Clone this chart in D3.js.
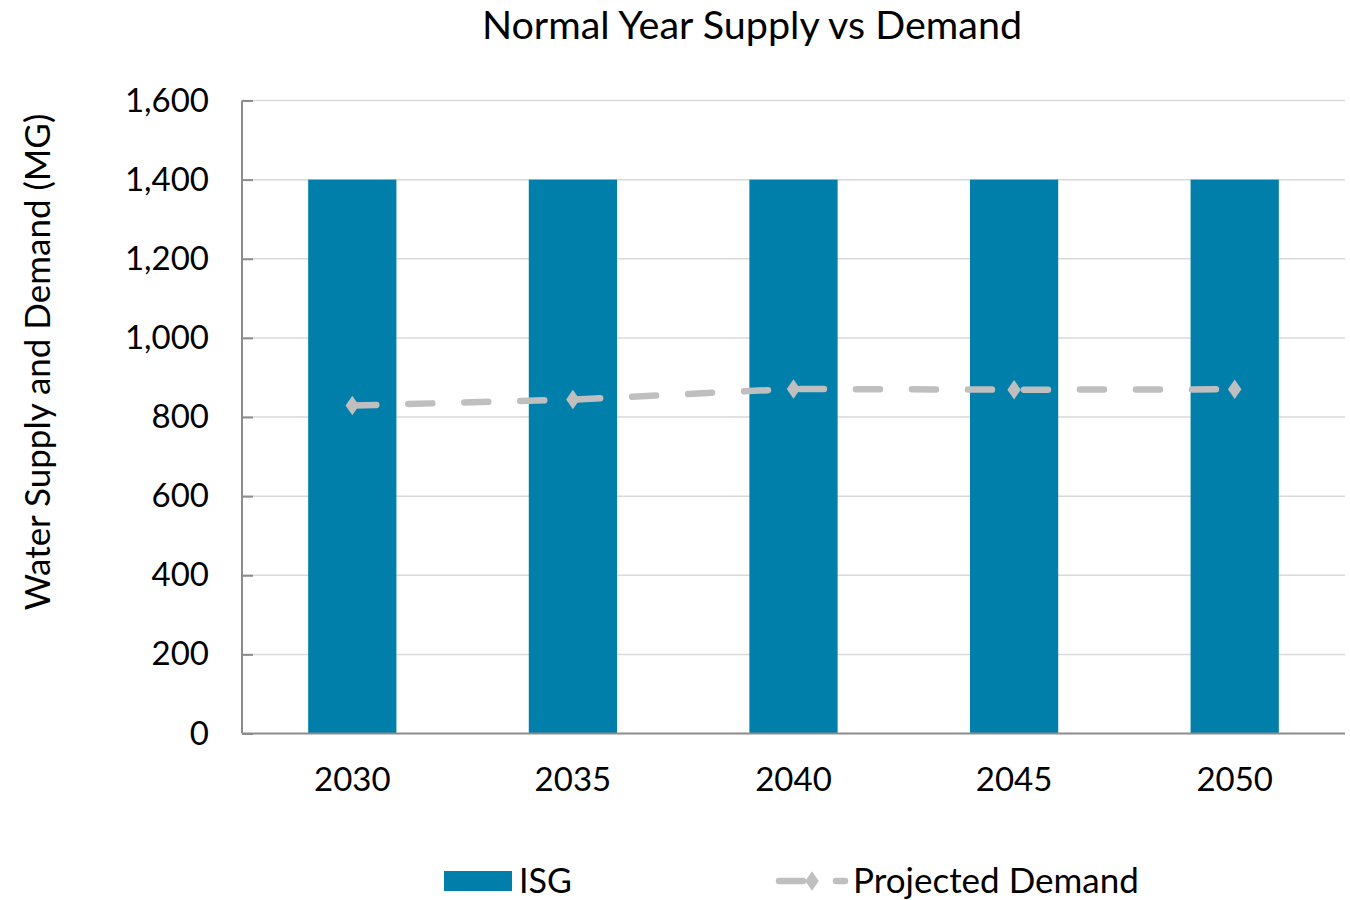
<!DOCTYPE html>
<html>
<head>
<meta charset="utf-8">
<script src="https://cdn.jsdelivr.net/npm/d3@7"></script>
<style>
  body { margin: 0; background: #fff; }
  svg { font-family: Lato, "Open Sans", sans-serif; }
</style>
</head>
<body>
<svg class="chart" width="1350" height="900"></svg>
<script>
const years = ["2030", "2035", "2040", "2045", "2050"];
const isgSupply = [1400, 1400, 1400, 1400, 1400];
const projectedDemand = [829, 844, 871, 869, 870];
const yTicks = [0, 200, 400, 600, 800, 1000, 1200, 1400, 1600];

const svg = d3.select(".chart");
const margin = { top: 100.5, right: 5, bottom: 166.5, left: 242 };
const width = 1350 - margin.left - margin.right;
const height = 900 - margin.top - margin.bottom;

const barColor = "#007fab";
const lineColor = "#bfbfbf";

const g = svg.append("g").attr("transform", `translate(${margin.left},${margin.top})`);

const x = d3.scaleBand().domain(years).range([0, width]).paddingInner(0.6).paddingOuter(0.3);
const y = d3.scaleLinear().domain([0, 1600]).range([height, 0]);

// gridlines
g.append("g")
  .selectAll("line")
  .data(yTicks.filter(d => d > 0))
  .join("line")
  .attr("x1", 0)
  .attr("x2", width)
  .attr("y1", d => y(d))
  .attr("y2", d => y(d))
  .attr("stroke", "#d9d9d9")
  .attr("stroke-width", 1.5);

// bars
g.append("g")
  .selectAll("rect")
  .data(years)
  .join("rect")
  .attr("x", d => x(d))
  .attr("width", x.bandwidth())
  .attr("y", (d, i) => y(isgSupply[i]))
  .attr("height", (d, i) => height - y(isgSupply[i]))
  .attr("fill", barColor);

// y axis (ticks pointing inward)
const yAxis = g.append("g")
  .call(d3.axisRight(y).tickValues(yTicks).tickSize(11).tickFormat(d3.format(",")));
yAxis.select(".domain").attr("stroke", "#8c8c8c").attr("stroke-width", 2).attr("d", `M0,${height}V0`);
yAxis.selectAll(".tick line").attr("stroke", "#8c8c8c").attr("stroke-width", 2);
yAxis.selectAll(".tick text")
  .attr("x", -33)
  .attr("text-anchor", "end")
  .attr("font-size", 33)
  .attr("fill", "#000")
  .attr("font-family", "Lato, sans-serif");

// x axis
const xAxis = g.append("g")
  .attr("transform", `translate(0,${height})`)
  .call(d3.axisBottom(x).tickSize(0).tickPadding(34));
xAxis.select(".domain").attr("stroke", "#8c8c8c").attr("stroke-width", 2).attr("d", `M0,0H${width}`);
xAxis.selectAll(".tick text")
  .attr("font-size", 33)
  .attr("fill", "#000")
  .attr("font-family", "Lato, sans-serif");

// projected demand line
const line = d3.line()
  .x((d, i) => x(years[i]) + x.bandwidth() / 2)
  .y(d => y(d));

g.append("path")
  .datum(projectedDemand)
  .attr("d", line)
  .attr("fill", "none")
  .attr("stroke", lineColor)
  .attr("stroke-width", 6.5)
  .attr("stroke-linecap", "round")
  .attr("stroke-dasharray", "24,32");

const diamond = d3.symbol().type(d3.symbolDiamond).size(110);
g.append("g")
  .selectAll("path")
  .data(projectedDemand)
  .join("path")
  .attr("d", diamond)
  .attr("transform", (d, i) => `translate(${x(years[i]) + x.bandwidth() / 2},${y(d)}) scale(1.2,1)`)
  .attr("fill", lineColor);

// title
svg.append("text")
  .attr("x", 752)
  .attr("y", 39)
  .attr("text-anchor", "middle")
  .attr("font-size", 39.5)
  .attr("fill", "#000")
  .text("Normal Year Supply vs Demand");

// y axis title
svg.append("text")
  .attr("transform", "translate(50,362) rotate(-90)")
  .attr("text-anchor", "middle")
  .attr("font-size", 35)
  .attr("fill", "#000")
  .text("Water Supply and Demand (MG)");

// legend
const legend = svg.append("g");
legend.append("rect")
  .attr("x", 444).attr("y", 871).attr("width", 68).attr("height", 20)
  .attr("fill", barColor);
legend.append("text")
  .attr("x", 519).attr("y", 893)
  .attr("font-size", 34).attr("fill", "#000")
  .text("ISG");

legend.append("line")
  .attr("x1", 779).attr("x2", 845).attr("y1", 881).attr("y2", 881)
  .attr("stroke", lineColor).attr("stroke-width", 6.5)
  .attr("stroke-linecap", "round").attr("stroke-dasharray", "24,33");
legend.append("path")
  .attr("d", diamond)
  .attr("transform", "translate(812,881) scale(1.2,1)")
  .attr("fill", lineColor);
legend.append("text")
  .attr("x", 853).attr("y", 893)
  .attr("font-size", 35).attr("fill", "#000")
  .text("Projected Demand");
</script>
</body>
</html>
